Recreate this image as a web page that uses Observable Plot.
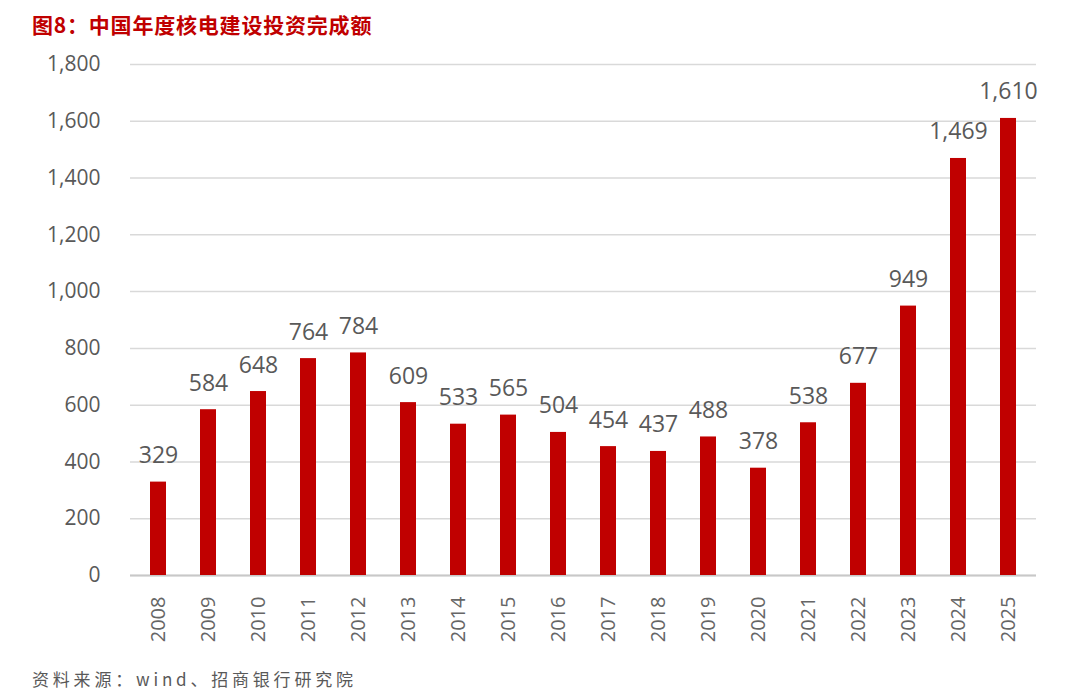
<!DOCTYPE html>
<html><head><meta charset="utf-8">
<script src="https://cdn.jsdelivr.net/npm/d3@7"></script>
<script src="https://cdn.jsdelivr.net/npm/@observablehq/plot@0.6"></script>
<style>
body{margin:0;background:#fff;width:1069px;height:691px;overflow:hidden;font-family:"Open Sans","Noto Sans CJK SC",sans-serif;}
#title{position:absolute;left:32px;top:9px;font-family:"Noto Sans CJK SC",sans-serif;font-weight:bold;font-size:21px;line-height:30px;color:#C00000;letter-spacing:0.8px;}
#chart{position:absolute;left:0;top:40px;}
#caption{position:absolute;left:32px;top:668px;font-family:"Noto Sans CJK SC",sans-serif;font-size:17px;line-height:22px;color:#595959;letter-spacing:3.8px;}
</style></head>
<body>
<div id="title">图8：中国年度核电建设投资完成额</div>
<div id="chart"></div>
<div id="caption">资料来源：wind、招商银行研究院</div>
<script>
const years = ["2008","2009","2010","2011","2012","2013","2014","2015","2016","2017","2018","2019","2020","2021","2022","2023","2024","2025"];
const values = [329,584,648,764,784,609,533,565,504,454,437,488,378,538,677,949,1469,1610];
const yTicks = [0,200,400,600,800,1000,1200,1400,1600,1800];
const data = years.map((y,i)=>({year:y, value:values[i]}));
const fmt = d3.format(",");

const chart = Plot.plot({
  width:1069, height:620,
  marginTop:24, marginBottom:85, marginLeft:130, marginRight:33,
  style:{fontFamily:"'Open Sans',sans-serif", background:"#fff"},
  x:{domain:years, paddingInner:0.69, paddingOuter:0.34, align:0.5},
  y:{domain:[0,1800]},
  marks:[
    Plot.gridY(yTicks,{stroke:"#d9d9d9", strokeOpacity:1, strokeWidth:1.5}),
    Plot.ruleY([0],{stroke:"#c8c8c8", strokeWidth:2}),
    Plot.barY(data,{x:"year", y:"value", fill:"#C00000"}),
    Plot.text(data,{x:"year", y:"value", text:d=>fmt(d.value), lineAnchor:"bottom", dy:-19, fontSize:23, fill:"#595959"}),
    Plot.axisY(yTicks,{tickSize:0, tickPadding:30, tickFormat:fmt, fontSize:21, color:"#595959", label:null}),
    Plot.axisX({tickSize:0, tickRotate:-90, tickPadding:21, fontSize:20, color:"#666666", label:null})
  ]
});
document.getElementById("chart").appendChild(chart);
</script>
</body></html>
